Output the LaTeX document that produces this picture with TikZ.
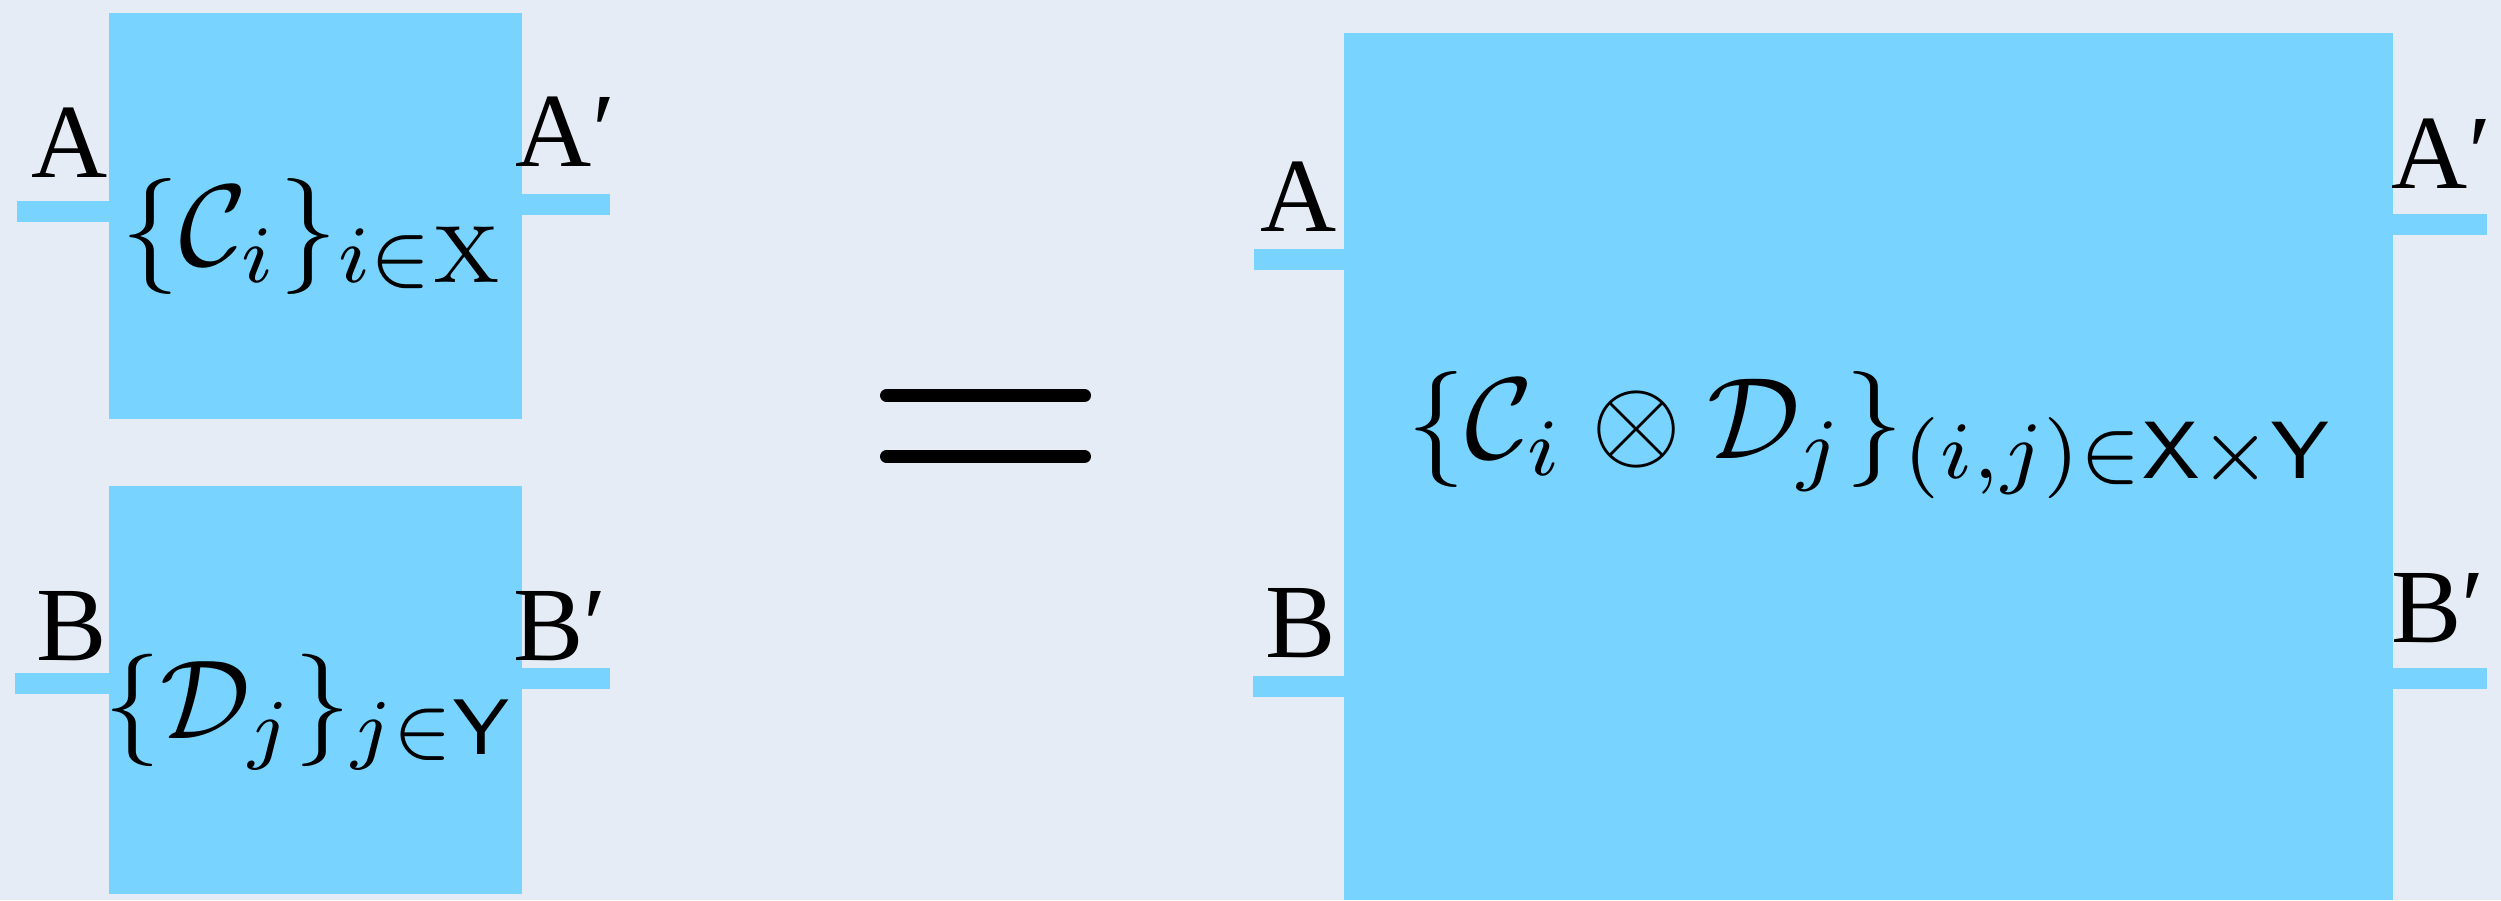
\RequirePackage{fix-cm}
\documentclass[tikz,border=0pt]{standalone}
\usepackage{fontspec}
\usepackage{amsmath}
\usepackage{amssymb}
\newfontfamily\wirefont{Liberation Serif}
\usetikzlibrary{
  positioning,
  calc
}
\definecolor{chBlue}{HTML}{78D4FE}
\definecolor{chPaper}{HTML}{E6ECF5}
\newcommand{\chanmath}[2]{\scalebox{#1}{$#2$}}
\tikzset{
  chbox/.style={
    fill=chBlue, draw=none, inner sep=0pt, outer sep=0pt, minimum width=41.3mm
  },
  bigbox/.style={chbox, minimum width=104.9mm, minimum height=86.73mm},
  wire/.style={line width=2.1mm, chBlue},
  wirelab/.style={font=\wirefont\fontsize{30}{36}\selectfont, inner sep=0pt, anchor=base},
  chlab/.style={inner sep=0pt, anchor=base},
  eqbar/.style={line width=1.3mm, line cap=round, black}
}

\begin{document}
\begin{tikzpicture}
  \fill[chPaper] (0,0) rectangle (25.01,9);
  \useasboundingbox (0,0) rectangle (25.01,9);
  % left hand side
  \node[chbox, minimum height=40.6mm] (chanC) at (3.151,6.84) {};
  \node[chbox, minimum height=40.8mm, below=6.7mm of chanC] (chanD) {};
  \node[chlab] (labC) at (3.14,6.35) {\chanmath{3.3}{\{\mathcal{C}_i\}_{i\in\mathrm{X}}}};
  \node[chlab] (labD) at (3.095,1.62) {\chanmath{3.2}{\{\mathcal{D}_j\}_{j\in\mathsf{Y}}}};
  \coordinate (inA) at (0.166,6.88);
  \coordinate (outA) at (6.10,6.955);
  \coordinate (inB) at (0.15,2.165);
  \coordinate (outB) at (6.095,2.215);
  \draw[wire] (inA) -- (inA -| chanC.west);
  \draw[wire] (chanC.east |- outA) -- (outA);
  \draw[wire] (inB) -- (inB -| chanD.west);
  \draw[wire] (chanD.east |- outB) -- (outB);
  \node[wirelab] (labA1) at (0.695,7.23) {A};
  \node[wirelab] (labA1p) at (5.655,7.33) {A′};
  \node[wirelab] (labB1) at (0.72,2.40) {B};
  \node[wirelab] (labB1p) at (5.60,2.40) {B′};
  % equals
  \draw[eqbar] (8.865,5.045) -- (10.845,5.045);
  \draw[eqbar] (8.865,4.435) -- (10.845,4.435);
  % right hand side
  \node[bigbox] (chanCD) at (18.685,4.3365) {};
  \node[chlab] (labCD) at (18.715,4.42)
    {\chanmath{3.3}{\{\mathcal{C}_i\otimes\mathcal{D}_j\}_{(i,j)\in\mathsf{X}\times\mathsf{Y}}}};
  \coordinate (inA2) at (12.536,6.405);
  \coordinate (outA2) at (24.87,6.755);
  \coordinate (inB2) at (12.53,2.14);
  \coordinate (outB2) at (24.87,2.22);
  \draw[wire] (inA2) -- (inA2 -| chanCD.west);
  \draw[wire] (chanCD.east |- outA2) -- (outA2);
  \draw[wire] (inB2) -- (inB2 -| chanCD.west);
  \draw[wire] (chanCD.east |- outB2) -- (outB2);
  \node[wirelab] (labA2) at (12.99,6.69) {A};
  \node[wirelab] (labA2p) at (24.415,7.11) {A′};
  \node[wirelab] (labB2) at (13.005,2.43) {B};
  \node[wirelab] (labB2p) at (24.38,2.58) {B′};
\end{tikzpicture}
\end{document}
